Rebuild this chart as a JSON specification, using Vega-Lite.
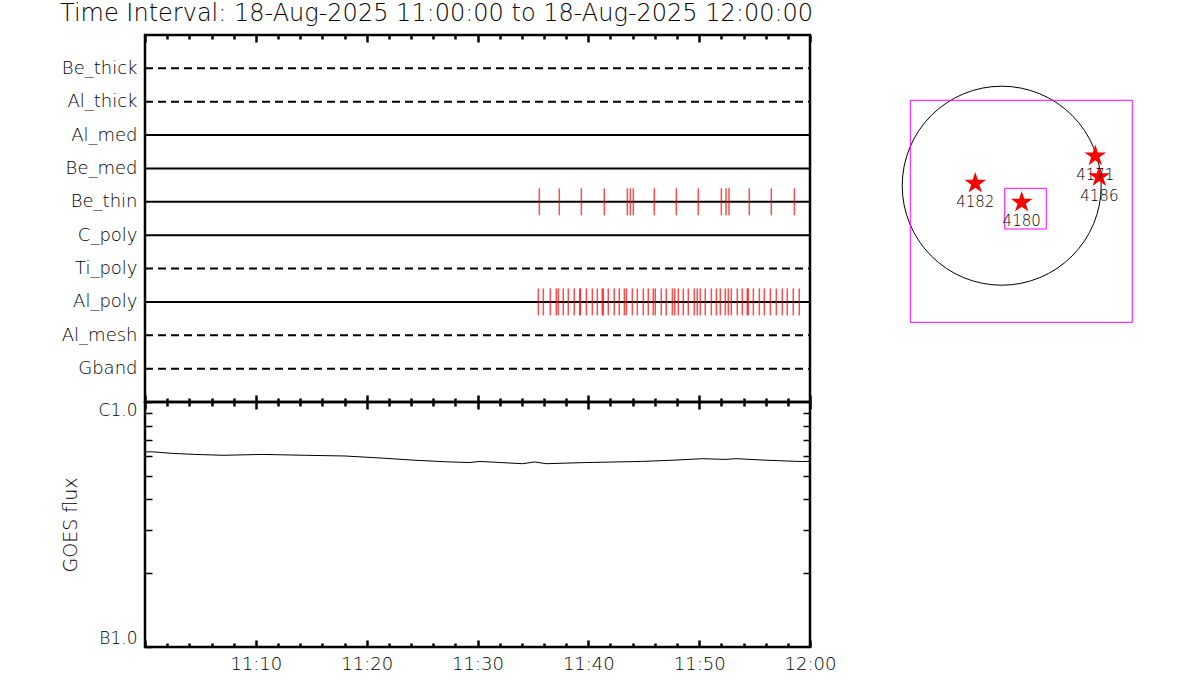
{
  "$schema": "https://vega.github.io/schema/vega-lite/v6.json",
  "background": "white",
  "padding": {"left": 58, "top": 0, "right": 0, "bottom": 0},
  "config": {
    "view": {"stroke": "black", "strokeWidth": 2.5},
    "font": "DejaVu Sans",
    "axis": {"grid": false, "domain": false, "labelColor": "black", "tickColor": "black", "titleColor": "black", "labelFont": "DejaVu Sans", "titleFont": "DejaVu Sans", "titleFontWeight": 300, "labelFontWeight": 300}
  },
  "datasets": {
    "dashedrows": [
      {"channel": "Be_thick", "start": 0, "end": 60},
      {"channel": "Al_thick", "start": 0, "end": 60},
      {"channel": "Ti_poly", "start": 0, "end": 60},
      {"channel": "Al_mesh", "start": 0, "end": 60},
      {"channel": "Gband", "start": 0, "end": 60}
    ],
    "solidrows": [
      {"channel": "Al_med", "start": 0, "end": 60},
      {"channel": "Be_med", "start": 0, "end": 60},
      {"channel": "Be_thin", "start": 0, "end": 60},
      {"channel": "C_poly", "start": 0, "end": 60},
      {"channel": "Al_poly", "start": 0, "end": 60}
    ],
    "bethin": [
      {"min": 35.58, "channel": "Be_thin"}, {"min": 37.38, "channel": "Be_thin"}, {"min": 39.37, "channel": "Be_thin"},
      {"min": 41.44, "channel": "Be_thin"}, {"min": 43.52, "channel": "Be_thin"}, {"min": 43.79, "channel": "Be_thin"},
      {"min": 44.06, "channel": "Be_thin"}, {"min": 45.95, "channel": "Be_thin"}, {"min": 47.94, "channel": "Be_thin"},
      {"min": 49.92, "channel": "Be_thin"}, {"min": 52.00, "channel": "Be_thin"}, {"min": 52.42, "channel": "Be_thin"},
      {"min": 52.69, "channel": "Be_thin"}, {"min": 54.52, "channel": "Be_thin"}, {"min": 56.51, "channel": "Be_thin"},
      {"min": 58.59, "channel": "Be_thin"}
    ],
    "alpoly": [
      {"min": 35.49, "channel": "Al_poly"}, {"min": 35.94, "channel": "Al_poly"}, {"min": 36.57, "channel": "Al_poly"},
      {"min": 37.11, "channel": "Al_poly"}, {"min": 37.29, "channel": "Al_poly"}, {"min": 37.74, "channel": "Al_poly"},
      {"min": 38.19, "channel": "Al_poly"}, {"min": 38.73, "channel": "Al_poly"}, {"min": 39.22, "channel": "Al_poly"},
      {"min": 39.28, "channel": "Al_poly"}, {"min": 39.82, "channel": "Al_poly"}, {"min": 40.36, "channel": "Al_poly"},
      {"min": 40.81, "channel": "Al_poly"}, {"min": 41.26, "channel": "Al_poly"}, {"min": 41.35, "channel": "Al_poly"},
      {"min": 41.80, "channel": "Al_poly"}, {"min": 42.34, "channel": "Al_poly"}, {"min": 42.79, "channel": "Al_poly"},
      {"min": 43.25, "channel": "Al_poly"}, {"min": 43.43, "channel": "Al_poly"}, {"min": 43.97, "channel": "Al_poly"},
      {"min": 44.42, "channel": "Al_poly"}, {"min": 44.96, "channel": "Al_poly"}, {"min": 45.41, "channel": "Al_poly"},
      {"min": 45.86, "channel": "Al_poly"}, {"min": 46.04, "channel": "Al_poly"}, {"min": 46.58, "channel": "Al_poly"},
      {"min": 47.03, "channel": "Al_poly"}, {"min": 47.58, "channel": "Al_poly"}, {"min": 47.79, "channel": "Al_poly"},
      {"min": 48.12, "channel": "Al_poly"}, {"min": 48.57, "channel": "Al_poly"}, {"min": 49.02, "channel": "Al_poly"},
      {"min": 49.56, "channel": "Al_poly"}, {"min": 49.83, "channel": "Al_poly"}, {"min": 50.10, "channel": "Al_poly"},
      {"min": 50.55, "channel": "Al_poly"}, {"min": 51.10, "channel": "Al_poly"}, {"min": 51.55, "channel": "Al_poly"},
      {"min": 51.91, "channel": "Al_poly"}, {"min": 52.36, "channel": "Al_poly"}, {"min": 52.63, "channel": "Al_poly"},
      {"min": 52.90, "channel": "Al_poly"}, {"min": 53.44, "channel": "Al_poly"}, {"min": 53.89, "channel": "Al_poly"},
      {"min": 54.34, "channel": "Al_poly"}, {"min": 54.43, "channel": "Al_poly"}, {"min": 54.89, "channel": "Al_poly"},
      {"min": 55.43, "channel": "Al_poly"}, {"min": 55.88, "channel": "Al_poly"}, {"min": 56.42, "channel": "Al_poly"},
      {"min": 56.96, "channel": "Al_poly"}, {"min": 57.50, "channel": "Al_poly"}, {"min": 57.95, "channel": "Al_poly"},
      {"min": 58.49, "channel": "Al_poly"}, {"min": 59.03, "channel": "Al_poly"}
    ],
    "goes": [
      {"min": 0, "flux": 6.26e-7}, {"min": 0.69, "flux": 6.26e-7}, {"min": 2.46, "flux": 6.17e-7},
      {"min": 4.47, "flux": 6.11e-7}, {"min": 7.03, "flux": 6.06e-7}, {"min": 10.57, "flux": 6.11e-7},
      {"min": 14.50, "flux": 6.06e-7}, {"min": 18.04, "flux": 6.02e-7}, {"min": 21.18, "flux": 5.91e-7},
      {"min": 24.23, "flux": 5.79e-7}, {"min": 27.19, "flux": 5.70e-7}, {"min": 29.25, "flux": 5.66e-7},
      {"min": 30.23, "flux": 5.72e-7}, {"min": 32.10, "flux": 5.66e-7}, {"min": 34.07, "flux": 5.60e-7},
      {"min": 35.14, "flux": 5.69e-7}, {"min": 36.23, "flux": 5.60e-7}, {"min": 39.77, "flux": 5.66e-7},
      {"min": 44.78, "flux": 5.72e-7}, {"min": 47.73, "flux": 5.79e-7}, {"min": 50.29, "flux": 5.87e-7},
      {"min": 52.36, "flux": 5.83e-7}, {"min": 53.34, "flux": 5.87e-7}, {"min": 55.90, "flux": 5.79e-7},
      {"min": 59.01, "flux": 5.72e-7}, {"min": 60, "flux": 5.72e-7}
    ],
    "sun": [{"x": 0, "y": 0}],
    "boxes": [
      {"x1": -882, "x2": 1260, "y1": 824, "y2": -1318},
      {"x1": 29, "x2": 430, "y1": -25, "y2": -418}
    ],
    "regions": [
      {"noaa": "4182", "x": -255, "y": 23},
      {"noaa": "4180", "x": 193, "y": -160},
      {"noaa": "4171", "x": 903, "y": 287},
      {"noaa": "4186", "x": 942, "y": 87}
    ]
  },
  "spacing": 735,
  "bounds": "flush",
  "hconcat": [
    {
      "spacing": 0,
      "bounds": "flush",
      "vconcat": [
        {
          "width": 665,
          "height": 367,
          "title": {"text": "Time Interval: 18-Aug-2025 11:00:00 to 18-Aug-2025 12:00:00", "anchor": "start", "frame": "group", "dx": -85, "fontSize": 24, "fontWeight": 300, "font": "DejaVu Sans", "color": "black", "offset": 8},
          "resolve": {"axis": {"x": "independent"}},
          "layer": [
            {
              "data": {"name": "dashedrows"},
              "mark": {"type": "rule", "color": "black", "strokeWidth": 2, "strokeDash": [8, 5]},
              "encoding": {
                "x": {"field": "start", "type": "quantitative",
                  "scale": {"domain": [0, 60], "nice": false, "zero": false},
                  "axis": {"orient": "top", "title": null, "labels": false, "values": [0, 10, 20, 30, 40, 50, 60], "tickWidth": 2.5, "tickSize": 7, "offset": -7}},
                "x2": {"field": "end"},
                "y": {"field": "channel", "type": "nominal",
                  "scale": {"type": "point", "padding": 1, "domain": ["Be_thick", "Al_thick", "Al_med", "Be_med", "Be_thin", "C_poly", "Ti_poly", "Al_poly", "Al_mesh", "Gband"]},
                  "axis": {"orient": "left", "title": null, "ticks": false, "labelFontSize": 18, "labelPadding": 8}}
              }
            },
            {
              "data": {"name": "solidrows"},
              "mark": {"type": "rule", "color": "black", "strokeWidth": 2},
              "encoding": {
                "x": {"field": "start", "type": "quantitative",
                  "axis": {"orient": "top", "title": null, "labels": false, "values": [2, 4, 6, 8, 12, 14, 16, 18, 22, 24, 26, 28, 32, 34, 36, 38, 42, 44, 46, 48, 52, 54, 56, 58], "tickWidth": 2.5, "tickSize": 4, "offset": -4}},
                "x2": {"field": "end"},
                "y": {"field": "channel", "type": "nominal"}
              }
            },
            {
              "data": {"name": "bethin"},
              "mark": {"type": "tick", "orient": "vertical", "color": "#ff0000", "size": 27, "thickness": 1.5},
              "encoding": {
                "x": {"field": "min", "type": "quantitative",
                  "axis": {"orient": "bottom", "title": null, "labels": false, "values": [0, 10, 20, 30, 40, 50, 60], "tickWidth": 2.5, "tickSize": 14, "offset": -7}},
                "y": {"field": "channel", "type": "nominal"}
              }
            },
            {
              "data": {"name": "alpoly"},
              "mark": {"type": "tick", "orient": "vertical", "color": "#ff0000", "size": 27, "thickness": 1.5},
              "encoding": {
                "x": {"field": "min", "type": "quantitative",
                  "axis": {"orient": "bottom", "title": null, "labels": false, "values": [2, 4, 6, 8, 12, 14, 16, 18, 22, 24, 26, 28, 32, 34, 36, 38, 42, 44, 46, 48, 52, 54, 56, 58], "tickWidth": 2.5, "tickSize": 8, "offset": -4}},
                "y": {"field": "channel", "type": "nominal"}
              }
            }
          ]
        },
        {
          "width": 665,
          "height": 245,
          "data": {"name": "goes"},
          "resolve": {"axis": {"x": "independent", "y": "independent"}},
          "layer": [
            {
              "mark": {"type": "line", "color": "black", "strokeWidth": 1},
              "encoding": {
                "x": {"field": "min", "type": "quantitative",
                  "scale": {"domain": [0, 60], "nice": false, "zero": false},
                  "axis": {"orient": "bottom", "title": null, "values": [0, 10, 20, 30, 40, 50, 60], "tickWidth": 2.5, "tickSize": 7, "offset": -7,
                    "labelExpr": "datum.value == 0 ? '' : (datum.value == 60 ? '12:00' : '11:' + datum.value)",
                    "labelOverlap": false, "labelFlush": false, "labelFontSize": 18, "labelPadding": 8}},
                "y": {"field": "flux", "type": "quantitative",
                  "scale": {"type": "log", "domain": [1e-7, 1e-6], "nice": false},
                  "axis": {"orient": "left", "values": [1e-7, 2e-7, 3e-7, 4e-7, 5e-7, 6e-7, 7e-7, 8e-7, 9e-7, 1e-6], "tickSize": 7, "offset": -7, "tickWidth": 1.5,
                    "labelExpr": "datum.value < 1.5e-7 ? 'B1.0' : (datum.value > 9.5e-7 ? 'C1.0' : '')",
                    "labelFlush": true, "labelOverlap": false, "labelFontSize": 17, "labelPadding": 8,
                    "title": "GOES flux", "titleFontSize": 19, "titlePadding": 18}}
              }
            },
            {
              "mark": {"type": "line", "opacity": 0},
              "encoding": {
                "x": {"field": "min", "type": "quantitative",
                  "axis": {"orient": "bottom", "title": null, "labels": false, "values": [2, 4, 6, 8, 12, 14, 16, 18, 22, 24, 26, 28, 32, 34, 36, 38, 42, 44, 46, 48, 52, 54, 56, 58], "tickWidth": 2.5, "tickSize": 4, "offset": -4}},
                "y": {"field": "flux", "type": "quantitative",
                  "axis": {"orient": "right", "title": null, "labels": false, "values": [2e-7, 3e-7, 4e-7, 5e-7, 6e-7, 7e-7, 8e-7, 9e-7], "tickSize": 7, "offset": -7, "tickWidth": 1.5}}
              }
            }
          ]
        }
      ]
    },
    {
      "width": 260,
      "height": 300,
      "view": {"stroke": null},
      "layer": [
        {
          "data": {"name": "sun"},
          "mark": {"type": "point", "shape": "circle", "filled": false, "color": "black", "strokeWidth": 1, "size": 39601, "opacity": 1},
          "encoding": {
            "x": {"field": "x", "type": "quantitative", "scale": {"domain": [-1174.2, 1334.3], "nice": false, "zero": false}, "axis": null},
            "y": {"field": "y", "type": "quantitative", "scale": {"domain": [-1440.4, 1453.9], "nice": false, "zero": false}, "axis": null}
          }
        },
        {
          "data": {"name": "boxes"},
          "mark": {"type": "rect", "fill": "transparent", "stroke": "#ff00ff", "strokeWidth": 1},
          "encoding": {
            "x": {"field": "x1", "type": "quantitative"},
            "x2": {"field": "x2"},
            "y": {"field": "y1", "type": "quantitative"},
            "y2": {"field": "y2"}
          }
        },
        {
          "data": {"name": "regions"},
          "mark": {"type": "point", "shape": "M0,-1L0.2245,-0.309L0.9511,-0.309L0.3633,0.118L0.5878,0.809L0,0.382L-0.5878,0.809L-0.3633,0.118L-0.9511,-0.309L-0.2245,-0.309Z", "filled": true, "color": "#ff0000", "size": 520, "opacity": 1},
          "encoding": {
            "x": {"field": "x", "type": "quantitative"},
            "y": {"field": "y", "type": "quantitative"}
          }
        },
        {
          "data": {"name": "regions"},
          "mark": {"type": "text", "dy": 19, "fontSize": 15, "fontWeight": 300, "color": "black", "font": "DejaVu Sans"},
          "encoding": {
            "x": {"field": "x", "type": "quantitative"},
            "y": {"field": "y", "type": "quantitative"},
            "text": {"field": "noaa", "type": "nominal"}
          }
        }
      ]
    }
  ]
}
